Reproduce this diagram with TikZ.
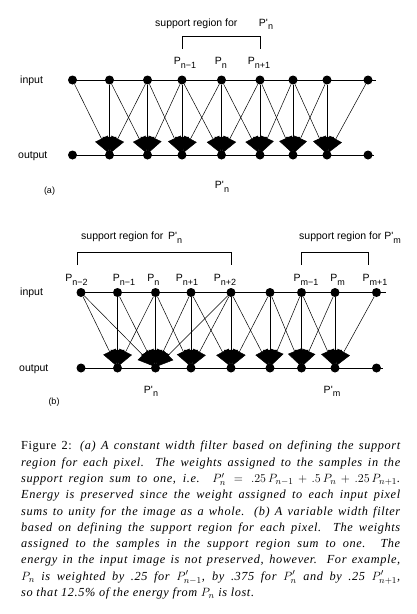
\documentclass[tikz,border=0pt]{standalone}
\usepackage{fontspec}
\setmainfont{Liberation Serif}
\newfontfamily\labelfont{Liberation Sans}
\newfontfamily\capfont{Liberation Serif}[LetterSpace=5]
\usetikzlibrary{arrows.meta}

\newcommand\Sub[1]{\raisebox{-3.5pt}{\fontsize{9}{9}\selectfont #1}}

\tikzset{
  pix/.style={circle, fill, inner sep=0pt, minimum size=9pt},
  lbl/.style={font=\labelfont\fontsize{10.5}{12}\selectfont, inner sep=0pt},
  wt/.style={line width=0.5pt, shorten >=-2.5pt, -{Triangle[length=16pt,width=14pt]}},
  rail/.style={line width=1pt},
}

\begin{document}
\begin{tikzpicture}[x=1pt, y=-1pt]
      \useasboundingbox (0,0) rectangle (417,614);
      % (a) constant width filter
      \node[pix] (ia1) at (72.5, 80) {};
      \node[pix] (ia2) at (109.5, 80) {};
      \node[pix] (ia3) at (147.5, 80) {};
      \node[pix] (ia4) at (182, 80) {};
      \node[pix] (ia5) at (221.5, 80) {};
      \node[pix] (ia6) at (260, 80) {};
      \node[pix] (ia7) at (293, 80) {};
      \node[pix] (ia8) at (327, 80) {};
      \node[pix] (ia9) at (368, 80) {};
      \node[pix] (oa1) at (72.5, 155) {};
      \node[pix] (oa2) at (109.5, 155) {};
      \node[pix] (oa3) at (147.5, 155) {};
      \node[pix] (oa4) at (182, 155) {};
      \node[pix] (oa5) at (221.5, 155) {};
      \node[pix] (oa6) at (260, 155) {};
      \node[pix] (oa7) at (293, 155) {};
      \node[pix] (oa8) at (327, 155) {};
      \node[pix] (oa9) at (368, 155) {};
      \coordinate (iaend) at (376, 80);
      \coordinate (oaend) at (374, 155);
      \draw[rail] (ia1.center) -- (iaend);
      \draw[rail] (oa1.center) -- (oaend);
      \draw[wt] (ia1) -- (oa2);
      \draw[wt] (ia2) -- (oa2);
      \draw[wt] (ia3) -- (oa2);
      \draw[wt] (ia2) -- (oa3);
      \draw[wt] (ia3) -- (oa3);
      \draw[wt] (ia4) -- (oa3);
      \draw[wt] (ia3) -- (oa4);
      \draw[wt] (ia4) -- (oa4);
      \draw[wt] (ia5) -- (oa4);
      \draw[wt] (ia4) -- (oa5);
      \draw[wt] (ia5) -- (oa5);
      \draw[wt] (ia6) -- (oa5);
      \draw[wt] (ia5) -- (oa6);
      \draw[wt] (ia6) -- (oa6);
      \draw[wt] (ia7) -- (oa6);
      \draw[wt] (ia6) -- (oa7);
      \draw[wt] (ia7) -- (oa7);
      \draw[wt] (ia8) -- (oa7);
      \draw[wt] (ia7) -- (oa8);
      \draw[wt] (ia8) -- (oa8);
      \draw[wt] (ia9) -- (oa8);
      \node[lbl, anchor=base west] (ina) at (20, 83.5) {input};
      \node[lbl, anchor=base west] (outa) at (18, 158.5) {output};
      \node[lbl, anchor=base west] (supa) at (155, 26) {support region for};
      \node[lbl, anchor=base] (supna) at (266, 26) {P'\Sub{n}};
      \draw[rail] (182, 49) -- (182, 36) -- (260, 36) -- (260, 49);
      \node[lbl, anchor=base] (pa4) at (185, 64.5) {P\Sub{n−1}};
      \node[lbl, anchor=base] (pa5) at (221, 64.5) {P\Sub{n}};
      \node[lbl, anchor=base] (pa6) at (259, 64.5) {P\Sub{n+1}};
      \node[lbl, anchor=base] (qa5) at (222, 188.5) {P'\Sub{n}};
      \node[lbl, anchor=base, font=\labelfont\fontsize{9}{10}\selectfont] (taga) at (49.5, 193.5) {(a)};
      % (b) variable width filter
      \node[pix] (ib1) at (81, 292.5) {};
      \node[pix] (ib2) at (117.5, 292.5) {};
      \node[pix] (ib3) at (155.5, 292.5) {};
      \node[pix] (ib4) at (191, 292.5) {};
      \node[pix] (ib5) at (231, 292.5) {};
      \node[pix] (ib6) at (270, 292.5) {};
      \node[pix] (ib7) at (301.5, 292.5) {};
      \node[pix] (ib8) at (335, 292.5) {};
      \node[pix] (ib9) at (376.5, 292.5) {};
      \node[pix] (ob1) at (81, 368) {};
      \node[pix] (ob2) at (117.5, 368) {};
      \node[pix] (ob3) at (155.5, 368) {};
      \node[pix] (ob4) at (191, 368) {};
      \node[pix] (ob5) at (231, 368) {};
      \node[pix] (ob6) at (270, 368) {};
      \node[pix] (ob7) at (301.5, 368) {};
      \node[pix] (ob8) at (335, 368) {};
      \node[pix] (ob9) at (376.5, 368) {};
      \coordinate (ibend) at (386, 292.5);
      \coordinate (obend) at (383, 368);
      \draw[rail] (ib1.center) -- (ibend);
      \draw[rail] (ob1.center) -- (obend);
      \draw[wt] (ib1) -- (ob2);
      \draw[wt] (ib2) -- (ob2);
      \draw[wt] (ib3) -- (ob2);
      \draw[wt] (ib1) -- (ob3);
      \draw[wt] (ib2) -- (ob3);
      \draw[wt] (ib3) -- (ob3);
      \draw[wt] (ib4) -- (ob3);
      \draw[wt] (ib5) -- (ob3);
      \draw[wt] (ib3) -- (ob4);
      \draw[wt] (ib4) -- (ob4);
      \draw[wt] (ib5) -- (ob4);
      \draw[wt] (ib4) -- (ob5);
      \draw[wt] (ib5) -- (ob5);
      \draw[wt] (ib6) -- (ob5);
      \draw[wt] (ib5) -- (ob6);
      \draw[wt] (ib6) -- (ob6);
      \draw[wt] (ib7) -- (ob6);
      \draw[wt] (ib6) -- (ob7);
      \draw[wt] (ib7) -- (ob7);
      \draw[wt] (ib8) -- (ob7);
      \draw[wt] (ib7) -- (ob8);
      \draw[wt] (ib8) -- (ob8);
      \draw[wt] (ib9) -- (ob8);
      \node[lbl, anchor=base west] (inb) at (20, 295.5) {input};
      \node[lbl, anchor=base west] (outb) at (19, 371) {output};
      \node[lbl, anchor=base west] (supb) at (81, 239.5) {support region for\, P'\Sub{n}};
      \node[lbl, anchor=base west] (supm) at (299, 239.5) {support region for P'\Sub{m}};
      \draw[rail] (77, 265) -- (77, 252.5) -- (231, 252.5) -- (231, 265);
      \draw[rail] (301.5, 265) -- (301.5, 252.5) -- (368, 252.5) -- (368, 265);
      \node[lbl, anchor=base] (pb1) at (76.5, 281.5) {P\Sub{n−2}};
      \node[lbl, anchor=base] (pb2) at (124, 281.5) {P\Sub{n−1}};
      \node[lbl, anchor=base] (pb3) at (153.5, 281.5) {P\Sub{n}};
      \node[lbl, anchor=base] (pb4) at (187, 281.5) {P\Sub{n+1}};
      \node[lbl, anchor=base] (pb5) at (225, 281.5) {P\Sub{n+2}};
      \node[lbl, anchor=base] (pb7) at (306, 281.5) {P\Sub{m−1}};
      \node[lbl, anchor=base] (pb8) at (337.5, 281.5) {P\Sub{m}};
      \node[lbl, anchor=base] (pb9) at (375, 281.5) {P\Sub{m+1}};
      \node[lbl, anchor=base] (qb3) at (151, 393) {P'\Sub{n}};
      \node[lbl, anchor=base] (qb8) at (332, 393) {P'\Sub{m}};
      \node[lbl, anchor=base, font=\labelfont\fontsize{9}{10}\selectfont] (tagb) at (54, 404) {(b)};
      % caption
      \node[anchor=north west, text width=379pt, align=justify, inner sep=0pt,
            font=\capfont\fontsize{12.3}{16.3}\selectfont] (caption) at (21, 441) {%
        \lineskiplimit=-6pt
        Figure 2: {\itshape (a) A constant width filter based on defining the support\linebreak
        region for each pixel. The weights assigned to the samples in the\linebreak
        support region sum to one, i.e. $P'_n = .25\,P_{n-1} + .5\,P_n + .25\,P_{n+1}$.\linebreak
        Energy is preserved since the weight assigned to each input pixel\linebreak
        sums to unity for the image as a whole. (b) A variable width filter\linebreak
        based on defining the support region for each pixel. The weights\linebreak
        assigned to the samples in the support region sum to one. The\linebreak
        energy in the input image is not preserved, however. For example,\linebreak
        $P_n$ is weighted by .25 for $P'_{n-1}$, by .375 for $P'_n$ and by .25 $P'_{n+1}$,\linebreak
        so that 12.5\% of the energy from $P_n$ is lost.}};
    \end{tikzpicture}
\end{document}
